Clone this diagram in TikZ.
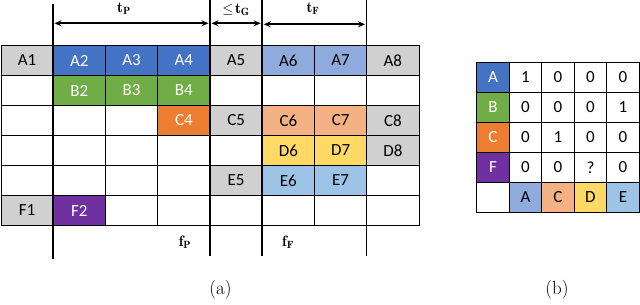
\documentclass[tikz,border=0pt]{standalone}
\usepackage{fontspec}
\newfontfamily\cellfont{Carlito}
\usetikzlibrary{arrows.meta}
\definecolor{cgray}{HTML}{D0D0D0}
\definecolor{cblue}{HTML}{4472C4}
\definecolor{cgreen}{HTML}{70AD47}
\definecolor{corange}{HTML}{ED7D31}
\definecolor{cpurple}{HTML}{7030A0}
\definecolor{clblue}{HTML}{8FAADC}
\definecolor{clorange}{HTML}{F4B183}
\definecolor{cyellow}{HTML}{FFD966}
\definecolor{cpblue}{HTML}{9DC3E6}
\begin{document}
\begin{tikzpicture}[x=1pt,y=-1pt,
  gridline/.style={line width=0.9pt,draw=black},
  cell/.style={draw=black,line width=0.9pt,minimum width=52.25pt,minimum height=30pt,inner sep=0pt,
    font=\cellfont\fontsize{17}{19}\selectfont},
  mcell/.style={draw=black,line width=0.9pt,minimum width=32.5pt,minimum height=30pt,inner sep=0pt,
    font=\cellfont\fontsize{17}{19}\selectfont},
  sep/.style={line width=1.8pt,draw=black},
  span/.style={line width=1.6pt,{Stealth[length=7pt,width=6pt]}-{Stealth[length=7pt,width=6pt]}},
  lab/.style={inner sep=0pt,font=\fontsize{15}{18}\selectfont},
  caplab/.style={inner sep=0pt,font=\fontsize{19}{22}\selectfont}]
\useasboundingbox (0,0) rectangle (640,305);
\def\gx{1}\def\gy{45.5}\def\cw{52.25}\def\ch{30}
% grid of table (a)
\foreach \i in {0,...,8} \draw[gridline] (\gx+\i*\cw,\gy) -- (\gx+\i*\cw,\gy+6*\ch);
\foreach \j in {0,...,6} \draw[gridline] (\gx,\gy+\j*\ch) -- (\gx+8*\cw,\gy+\j*\ch);
% filled cells
\foreach \r/\c/\t/\f/\tc in {
  1/1/A1/cgray/black, 1/2/A2/cblue/white, 1/3/A3/cblue/white, 1/4/A4/cblue/white,
  1/5/A5/cgray/black, 1/6/A6/clblue/black, 1/7/A7/clblue/black, 1/8/A8/cgray/black,
  2/2/B2/cgreen/white, 2/3/B3/cgreen/white, 2/4/B4/cgreen/white,
  3/4/C4/corange/white, 3/5/C5/cgray/black, 3/6/C6/clorange/black, 3/7/C7/clorange/black, 3/8/C8/cgray/black,
  4/6/D6/cyellow/black, 4/7/D7/cyellow/black, 4/8/D8/cgray/black,
  5/5/E5/cgray/black, 5/6/E6/cpblue/black, 5/7/E7/cpblue/black,
  6/1/F1/cgray/black, 6/2/F2/cpurple/white}
  \node[cell,fill=\f,text=\tc] (cell-\t) at (\gx+\c*\cw-\cw/2,\gy+\r*\ch-\ch/2) {\t};
% separators
\coordinate (s1t) at (53,4); \coordinate (s1b) at (53,259);
\coordinate (s2t) at (210,0); \coordinate (s2b) at (210,256);
\coordinate (s3t) at (262.2,0); \coordinate (s3b) at (262.2,256);
\coordinate (s4t) at (366.5,0); \coordinate (s4b) at (366.5,256);
\draw[sep] (s1t) -- (s1b);
\draw[sep] (s2t) -- (s2b);
\draw[sep] (s3t) -- (s3b);
\draw[sep] (s4t) -- (s4b);
% spans
\coordinate (p1) at (54.5,23.3); \coordinate (p2) at (208.5,23.3);
\coordinate (g1) at (211.5,23.3); \coordinate (g2) at (260.7,23.3);
\coordinate (f1) at (263.7,24.3); \coordinate (f2) at (365,24.3);
\draw[span] (p1) -- (p2);
\draw[span] (g1) -- (g2);
\draw[span] (f1) -- (f2);
\node[lab] (tP) at (124,8.5) {$\mathbf{t}_{\mathbf{P}}$};
\node[lab] (tG) at (236,9.5) {$\leq\!\mathbf{t}_{\mathbf{G}}$};
\node[lab] (tF) at (313,8.5) {$\mathbf{t}_{\mathbf{F}}$};
\node[lab] (fP) at (185,242) {$\mathbf{f}_{\mathbf{P}}$};
\node[lab] (fF) at (288,242) {$\mathbf{f}_{\mathbf{F}}$};
% table (b)
\def\mx{476.7}\def\my{62.3}\def\mw{32.5}
\foreach \r/\c/\t/\f/\tc in {
  1/1/A/cblue/white, 1/2/1/white/black, 1/3/0/white/black, 1/4/0/white/black, 1/5/0/white/black,
  2/1/B/cgreen/white, 2/2/0/white/black, 2/3/0/white/black, 2/4/0/white/black, 2/5/1/white/black,
  3/1/C/corange/white, 3/2/0/white/black, 3/3/1/white/black, 3/4/0/white/black, 3/5/0/white/black,
  4/1/F/cpurple/white, 4/2/0/white/black, 4/3/0/white/black, 4/4/?/white/black, 4/5/0/white/black,
  5/1/{}/white/black, 5/2/A/clblue/black, 5/3/C/clorange/black, 5/4/D/cyellow/black, 5/5/E/cpblue/black}
  \node[mcell,fill=\f,text=\tc] (m-\r-\c) at (\mx+\c*\mw-\mw/2,\my+\r*\ch-\ch/2) {\t};
% captions
\node[caplab] (capa) at (220.5,289.5) {(a)};
\node[caplab] (capb) at (557,289.5) {(b)};
\end{tikzpicture}
\end{document}
